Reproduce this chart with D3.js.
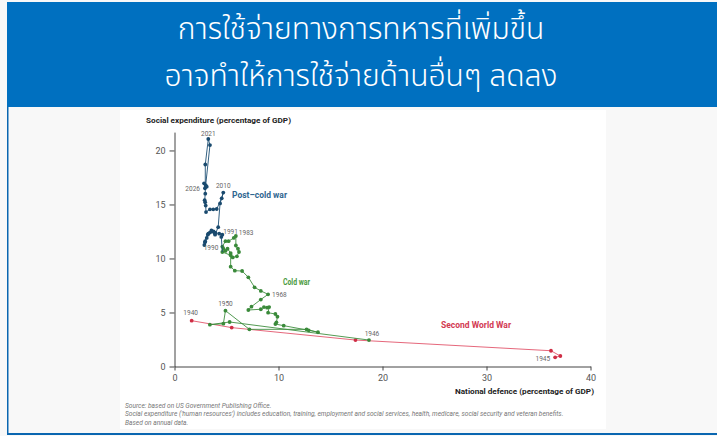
<!DOCTYPE html>
<html><head><meta charset="utf-8">
<script src="https://cdn.jsdelivr.net/npm/d3@7"></script>
<style>
body{margin:0;background:#f8f8f8;width:717px;height:436px;overflow:hidden;}
svg{display:block;}
</style></head><body><svg id="c" width="717" height="436"></svg>
<script>
// ---- data ----
const titleLines = ["การใช้จ่ายทางการทหารที่เพิ่มขึ้น", "อาจทำให้การใช้จ่ายด้านอื่นๆ ลดลง"];
const xTicks = [0, 10, 20, 30, 40];
const yTicks = [0, 5, 10, 15, 20];

const wwYears   = [1940, 1941, 1942, 1943, 1944, 1945];
const wwDefence = [1.65, 5.5, 17.4, 36.2, 37.1, 36.6];
const wwSocial  = [4.24, 3.6, 2.45, 1.46, 0.97, 0.85];

const coldYears   = d3.range(1946, 1991);
const coldDefence = [18.7, 5.3, 3.4, 4.7, 4.9, 7.2, 12.7, 13.8, 12.9, 10.5, 9.7, 9.8, 9.9, 9.7, 9.0,
                     9.1, 8.9, 8.6, 8.3, 7.1, 7.4, 8.3, 9.0, 8.3, 7.7, 7.1, 6.5, 5.8, 5.4, 5.4,
                     5.1, 4.9, 4.7, 4.6, 4.9, 5.2, 5.7, 5.9, 5.9, 6.1, 6.2, 6.0, 5.6, 5.4, 4.6];
const coldSocial  = [2.45, 4.12, 3.87, 3.96, 5.17, 3.44, 3.44, 3.17, 3.35, 3.78, 3.93, 4.09, 4.61, 4.86, 4.98,
                     5.5, 5.45, 5.5, 5.3, 5.23, 5.54, 6.2, 6.68, 7.0, 7.33, 8.26, 8.84, 8.87, 9.24, 10.5,
                     10.9, 10.7, 10.9, 11.1, 11.6, 11.6, 11.9, 12.08, 11.2, 10.9, 10.6, 10.2, 10.1, 10.3, 10.6];

const postYears   = d3.range(1990, 2027);
const postDefence = [4.6, 4.5, 4.6, 4.3, 3.9, 3.6, 3.4, 3.25, 3.1, 2.95, 2.87, 2.93, 3.2, 3.55, 3.75, 3.85,
                     3.9, 3.9, 4.2, 4.38, 4.69, 4.54, 4.06, 3.73, 3.41, 3.03, 3.0, 2.95, 2.9, 2.96, 2.96,
                     3.25, 3.41, 3.0, 3.1, 2.84, 2.93];
const postSocial  = [10.6, 12.0, 12.2, 12.3, 12.4, 12.5, 12.4, 12.3, 11.9, 11.6, 11.25, 11.5, 12.2, 12.6, 12.5, 12.4,
                     12.3, 12.2, 12.9, 15.1, 16.1, 15.57, 14.58, 14.55, 14.55, 14.3, 14.9, 15.2, 15.4, 16.0, 18.7,
                     21.06, 20.5, 16.8, 16.65, 16.96, 16.5];

const yearLabels = [
  {year: 1940, dx: -1, dy: -6, anchor: "middle"},
  {year: 1945, dx: -5, dy: 4, anchor: "end"},
  {year: 1946, dx: 3, dy: -4, anchor: "middle"},
  {year: 1950, dx: 0, dy: -5, anchor: "middle"},
  {year: 1968, dx: 4, dy: 2.5, anchor: "start"},
  {year: 1983, dx: 3, dy: -1, anchor: "start"},
  {year: 1990, dx: -4, dy: -2, anchor: "end"},
  {year: 1991, dx: 2, dy: -3, anchor: "start"},
  {year: 2010, dx: 0, dy: -5, anchor: "middle"},
  {year: 2021, dx: 0, dy: -3, anchor: "middle"},
  {year: 2026, dx: -5, dy: 2.5, anchor: "end"}
];

const footnotes = [
  "Source: based on US Government Publishing Office.",
  "Social expenditure ('human resources') includes education, training, employment and social services, health, medicare, social security and veteran benefits.",
  "Based on annual data."
];

// ---- drawing ----
const svg = d3.select("#c");

// frame
svg.append("rect").attr("x", 7).attr("y", 2).attr("width", 710).attr("height", 105).attr("fill", "#0070c0");
svg.append("rect").attr("x", 7).attr("y", 107).attr("width", 1.5).attr("height", 328).attr("fill", "#0a66b0");
svg.append("rect").attr("x", 7).attr("y", 433).attr("width", 710).attr("height", 2).attr("fill", "#0a66b0");
svg.append("rect").attr("x", 120).attr("y", 110).attr("width", 486).attr("height", 319).attr("fill", "#ffffff");

// title
svg.selectAll("text.title").data(titleLines).join("text")
  .attr("class", "title")
  .attr("x", 361).attr("y", (d, i) => 39 + i * 47)
  .attr("text-anchor", "middle")
  .attr("fill", "#ffffff")
  .attr("font-family", "'Noto Sans Thai', 'Noto Sans', 'DejaVu Sans', sans-serif")
  .attr("font-weight", 300)
  .attr("font-size", 30)
  .text(d => d);

const x = d3.scaleLinear().domain([0, 40]).range([174.5, 590.5]);
const y = d3.scaleLinear().domain([0, 21.7]).range([366.5, 132.1]);

const font = "Roboto, 'Liberation Sans', sans-serif";

const xAxis = svg.append("g").attr("transform", `translate(0,${y(0)})`)
  .call(d3.axisBottom(x).tickValues(xTicks).tickSize(4).tickSizeOuter(0).tickPadding(4));
const yAxis = svg.append("g").attr("transform", `translate(${x(0)},0)`)
  .call(d3.axisLeft(y).tickValues(yTicks).tickSize(5).tickSizeOuter(0).tickPadding(4));
[xAxis, yAxis].forEach(g => {
  g.select(".domain").attr("stroke", "#444").attr("stroke-width", 1);
  g.selectAll(".tick line").attr("stroke", "#444");
  g.selectAll(".tick text").attr("fill", "#555").attr("font-size", 9).attr("font-family", font);
});

// axis titles
svg.append("text").attr("x", 146).attr("y", 123)
  .attr("font-family", font).attr("font-weight", 700).attr("font-size", 8).attr("fill", "#222")
  .attr("textLength", 145).attr("lengthAdjust", "spacingAndGlyphs")
  .text("Social expenditure (percentage of GDP)");
svg.append("text").attr("x", 594).attr("y", 393.5).attr("text-anchor", "end")
  .attr("font-family", font).attr("font-weight", 700).attr("font-size", 8).attr("fill", "#222")
  .attr("textLength", 139).attr("lengthAdjust", "spacingAndGlyphs")
  .text("National defence (percentage of GDP)");

function series(years, def, soc) {
  return years.map((yr, i) => ({year: yr, d: def[i], s: soc[i]}));
}
const ww = series(wwYears, wwDefence, wwSocial);
const cold = series(coldYears, coldDefence, coldSocial);
const post = series(postYears, postDefence, postSocial);

const line = d3.line().x(p => x(p.d)).y(p => y(p.s));

const groups = [
  {data: ww, line: "#e2566c", dot: "#cf2e45", dots: ww},
  {data: cold, line: "#3f8f3f", dot: "#3a8a3a", dots: cold},
  {data: post, line: "#1d4f74", dot: "#1a4a6e", dots: post.slice(1)}
];
groups.forEach(g => {
  svg.append("path").datum(g.data).attr("d", line)
    .attr("fill", "none").attr("stroke", g.line).attr("stroke-width", 0.9);
  svg.append("g").selectAll("circle").data(g.dots).join("circle")
    .attr("cx", p => x(p.d)).attr("cy", p => y(p.s)).attr("r", 1.9).attr("fill", g.dot);
});

// year labels
const all = ww.concat(cold, post);
yearLabels.forEach(l => {
  const p = all.find(q => q.year === l.year);
  svg.append("text").attr("x", x(p.d) + l.dx).attr("y", y(p.s) + l.dy)
    .attr("text-anchor", l.anchor)
    .attr("font-family", font).attr("font-size", 6.5).attr("fill", "#666")
    .text(l.year);
});

// series labels
svg.append("text").attr("x", 232).attr("y", 198).attr("font-family", font).attr("font-weight", 700)
  .attr("font-size", 9).attr("fill", "#2f6690").attr("textLength", 55).attr("lengthAdjust", "spacingAndGlyphs")
  .text("Post–cold war");
svg.append("text").attr("x", 283).attr("y", 285).attr("font-family", font).attr("font-weight", 700)
  .attr("font-size", 9).attr("fill", "#4a9a3e").attr("textLength", 27).attr("lengthAdjust", "spacingAndGlyphs")
  .text("Cold war");
svg.append("text").attr("x", 441).attr("y", 328).attr("font-family", font).attr("font-weight", 700)
  .attr("font-size", 9).attr("fill", "#d23a52").attr("textLength", 70).attr("lengthAdjust", "spacingAndGlyphs")
  .text("Second World War");

// footnotes
svg.selectAll("text.fn").data(footnotes).join("text").attr("class", "fn")
  .attr("x", 125).attr("y", (d, i) => 408 + i * 8.3)
  .attr("font-family", font).attr("font-style", "italic").attr("font-size", 6.6).attr("fill", "#777")
  .text(d => d);
</script></body></html>
